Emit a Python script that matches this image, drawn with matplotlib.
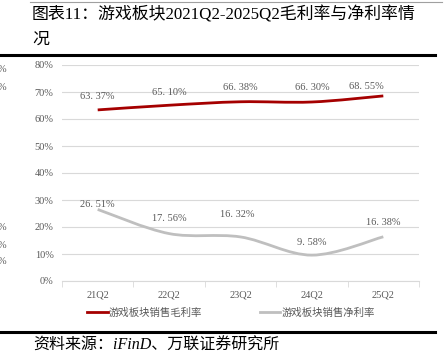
import numpy as np
import matplotlib.pyplot as plt
from matplotlib.path import Path
from matplotlib.patches import PathPatch
from matplotlib.lines import Line2D

plt.rcParams['font.family'] = ['Liberation Serif', 'Noto Sans CJK SC', 'DejaVu Sans']

# data
quarters = ['21Q2', '22Q2', '23Q2', '24Q2', '25Q2']
gross_margin = [63.37, 65.10, 66.38, 66.30, 68.55]
net_margin = [26.51, 17.56, 16.32, 9.58, 16.38]
gross_name = '游戏板块销售毛利率'
net_name = '游戏板块销售净利率'
title_1 = '图表11：游戏板块2021Q2-2025Q2毛利率与净利率情'
title_2 = '况'
source = '资料来源：iFinD、万联证券研究所'

# label offsets in pixels (dx, dy)
gross_off = [(0, 13), (0, 13), (0, 14), (0, 14), (-17, 9)]
net_off = [(0, 5), (0, 15), (-3, 22), (0, 13), (0, 14)]

RED = '#A50000'
GREY = '#BFBFBF'
TXT = '#595959'

W, H = 448, 363
fig = plt.figure(figsize=(W / 100, H / 100), dpi=100)
ax = fig.add_axes([62 / W, (H - 281) / H, (419 - 62) / W, (281 - 65) / H])


def smooth_path(xs, ys):
    # Catmull-Rom style bezier through the points (like office "smoothed line")
    pts = np.column_stack([xs, ys]).astype(float)
    verts = [pts[0]]
    codes = [Path.MOVETO]
    n = len(pts)
    for i in range(n - 1):
        p0 = pts[max(i - 1, 0)]
        p1 = pts[i]
        p2 = pts[i + 1]
        p3 = pts[min(i + 2, n - 1)]
        c1 = p1 + (p2 - p0) / 6
        c2 = p2 - (p3 - p1) / 6
        verts += [c1, c2, p2]
        codes += [Path.CURVE4] * 3
    return Path(verts, codes)


x = np.arange(len(quarters))
for vals, col in [(gross_margin, RED), (net_margin, GREY)]:
    ax.add_patch(PathPatch(smooth_path(x, vals), facecolor='none', edgecolor=col,
                           lw=2.0, capstyle='butt', zorder=3))

for vals, offs in [(gross_margin, gross_off), (net_margin, net_off)]:
    for xi, v, (dx, dy) in zip(x, vals, offs):
        ax.annotate(f'{v:.2f}%'.replace('.', '. '), (xi, v), xytext=(dx, dy),
                    textcoords='offset pixels', ha='center', va='center',
                    fontsize=7.5, color=TXT)

ax.set_xlim(-0.5, len(quarters) - 0.5)
ax.set_ylim(0, 80)
ax.set_yticks(np.arange(0, 81, 10))
ax.set_yticklabels([f'{t}%' for t in range(0, 81, 10)])
ax.set_xticks(x)
ax.set_xticklabels(quarters)
ax.set_xticks(np.arange(-0.5, len(quarters), 1), minor=True)
ax.tick_params(axis='x', which='major', length=0, pad=7, labelsize=7.5, labelcolor=TXT)
ax.tick_params(axis='x', which='minor', length=4, color='#D9D9D9', direction='out')
ax.tick_params(axis='y', length=0, pad=6, labelsize=7.5, labelcolor=TXT)
ax.grid(axis='y', color='#D9D9D9', lw=0.8)
ax.set_axisbelow(True)
for s in ['top', 'right', 'left']:
    ax.spines[s].set_visible(False)
ax.spines['bottom'].set_color('#D9D9D9')
ax.spines['bottom'].set_linewidth(0.8)

handles = [Line2D([], [], color=RED, lw=2.0), Line2D([], [], color=GREY, lw=2.0)]
fig.legend(handles, [gross_name, net_name], loc='center', ncol=2, frameon=False,
           bbox_to_anchor=(231 / W, (H - 313) / H), fontsize=7.5,
           handlelength=2.0, handletextpad=0.1, columnspacing=5.5,
           labelcolor=TXT)

# title, source and rules
fig.text(32 / W, 1 - 15 / H, title_1, fontsize=12.2, va='center', ha='left')
fig.text(32 / W, 1 - 40 / H, title_2, fontsize=12.2, va='center', ha='left')
fig.text(33 / W, 1 - 346 / H, source, fontsize=11.5, va='center', ha='left',
         style='italic')
fig.add_artist(Line2D([30 / W, 442 / W], [1 - 2 / H] * 2, color='#A0A0A0', lw=0.8))
fig.add_artist(Line2D([0, 435 / W], [1 - 55 / H] * 2, color='black', lw=2.2))
fig.add_artist(Line2D([0, 435 / W], [1 - 332 / H] * 2, color='black', lw=2.2))

# clipped labels from a neighbouring chart at the left edge
for yy in [70, 87, 227, 245, 262]:
    fig.text(6 / W, 1 - yy / H, '%', fontsize=7.5, color=TXT, ha='right', va='center')

fig.savefig('out.png', dpi=100)
